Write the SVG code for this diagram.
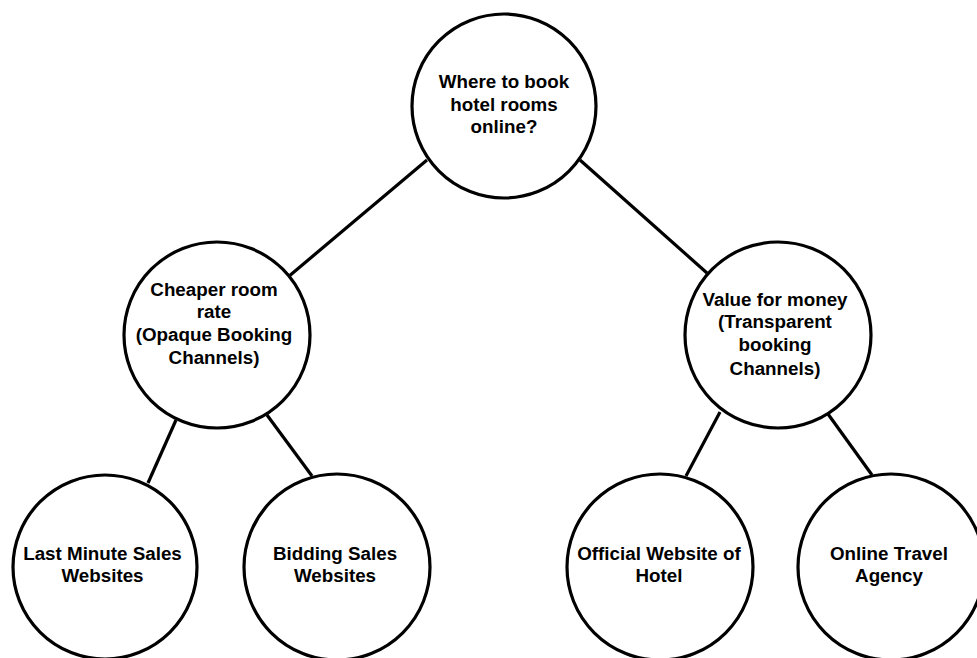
<svg xmlns="http://www.w3.org/2000/svg" width="977" height="658" viewBox="0 0 977 658">
<style>
.node circle{fill:#fff;stroke:#000;stroke-width:3.2}
.node text{font-family:"Liberation Sans",Arial,sans-serif;font-weight:bold;font-size:18.8px;fill:#000;text-anchor:middle}
#connectors line{stroke:#000;stroke-width:3.2}
</style>
<rect width="977" height="658" fill="#fff"/>
<g id="connectors">
<line x1="427" y1="160" x2="288" y2="277"/>
<line x1="580" y1="160" x2="707" y2="273"/>
<line x1="176" y1="420" x2="148" y2="483"/>
<line x1="267" y1="415" x2="312" y2="476"/>
<line x1="720" y1="412" x2="686" y2="476"/>
<line x1="828" y1="414" x2="872" y2="475"/>
</g>
<g id="root" class="node">
<circle cx="504" cy="106" r="92"/>
<text x="504" y="88">Where to book</text>
<text x="504" y="111">hotel rooms</text>
<text x="504" y="133">online?</text>
</g>
<g id="cheaper" class="node">
<circle cx="217" cy="335" r="93"/>
<text x="214" y="296">Cheaper room</text>
<text x="214" y="318">rate</text>
<text x="214" y="341">(Opaque Booking</text>
<text x="214" y="364">Channels)</text>
</g>
<g id="value" class="node">
<circle cx="778" cy="335" r="93"/>
<text x="775" y="306">Value for money</text>
<text x="775" y="328">(Transparent</text>
<text x="775" y="351">booking</text>
<text x="775" y="375">Channels)</text>
</g>
<g id="lastminute" class="node">
<circle cx="105" cy="567" r="92"/>
<text x="102.5" y="560">Last Minute Sales</text>
<text x="102.5" y="582">Websites</text>
</g>
<g id="bidding" class="node">
<circle cx="337" cy="567" r="93"/>
<text x="335" y="560">Bidding Sales</text>
<text x="335" y="582">Websites</text>
</g>
<g id="official" class="node">
<circle cx="660" cy="567" r="93"/>
<text x="659" y="560">Official Website of</text>
<text x="659" y="582">Hotel</text>
</g>
<g id="online" class="node">
<circle cx="891" cy="567" r="93"/>
<text x="889" y="560">Online Travel</text>
<text x="889" y="582">Agency</text>
</g>
</svg>
